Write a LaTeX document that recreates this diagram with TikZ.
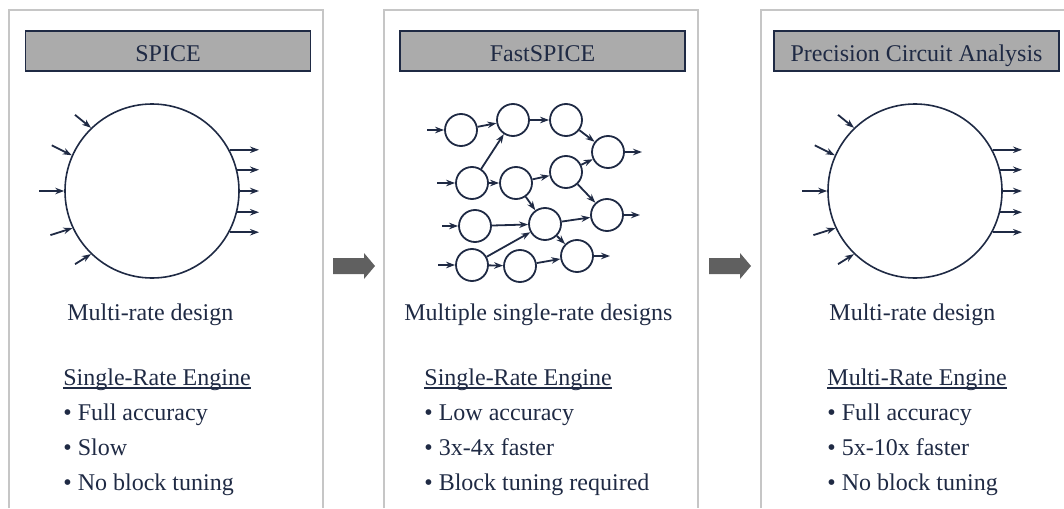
\documentclass[tikz,border=0pt]{standalone}
\usepackage{xcolor}
\usepackage{fontspec}
\setmainfont{Liberation Serif}
\usepackage{tikz}
\usetikzlibrary{arrows.meta, positioning}

\definecolor{navy}{HTML}{1F2A44}
\definecolor{panelgray}{HTML}{C6C6C6}
\definecolor{titlegray}{HTML}{ABABAB}
\definecolor{arrowgray}{HTML}{606060}

\tikzset{
	panel/.style={draw=panelgray, line width=1.5pt},
	titlebox/.style={draw=navy, fill=titlegray, line width=1.6pt, minimum width=285pt, minimum height=40pt,
		text height=22pt, text depth=0pt, inner sep=0pt, text=navy, font=\fontsize{24}{28}\selectfont},
	txt/.style={anchor=base west, inner sep=0pt, text=navy, font=\fontsize{24}{28}\selectfont},
	blob/.style={circle, draw=navy, line width=1.6pt, minimum size=174pt, inner sep=0pt},
	cell/.style={circle, draw=navy, line width=1.8pt, minimum size=32pt, inner sep=0pt},
	wire/.style={->, draw=navy, line width=1.8pt},
	blockarrow/.style={fill=arrowgray}
}

\begin{document}
\begin{tikzpicture}[x=1pt, y=-1pt,
			>={Stealth[length=9pt, width=6.5pt]},
			thick]
			\useasboundingbox (0,0) rectangle (1064,508);
			
			% panels
			\draw[panel] (9,508) |- (323,10) -- (323,508);
			\draw[panel] (384,508) |- (698,10) -- (698,508);
			\draw[panel] (761,508) |- (1064,10);
			
			\node[titlebox] (t1) at (168,51) {SPICE};
			\node[titlebox] (t2) at (542.5,51) {FastSPICE};
			\node[titlebox] (t3) at (916.5,51) {Precision Circuit Analysis};
			
			% SPICE
			\node[blob] (spice) at (152,191) {};
			\coordinate (sout) at (259,0);
			\draw[wire, <-] (spice.134) -- ++(-16,-13);
			\draw[wire, <-] (spice.156) -- ++(-20,-10);
			\draw[wire, <-] (spice.180) -- ++(-25,0);
			\draw[wire, <-] (spice.205) -- ++(-22,7);
			\draw[wire, <-] (spice.226) -- ++(-16,10);
			\draw[wire] (spice.28) -- (spice.28 -| sout);
			\draw[wire] (spice.14) -- (spice.14 -| sout);
			\draw[wire] (spice.0) -- (spice.0 -| sout);
			\draw[wire] (spice.-14) -- (spice.-14 -| sout);
			\draw[wire] (spice.-28) -- (spice.-28 -| sout);
			
			\node[txt] (s1) at (67,320) {Multi-rate design};
			\node[txt] (s2) at (63,385) {Single-Rate Engine};
			\draw[navy, line width=2pt] ([yshift=-3pt]s2.base west) -- ([yshift=-3pt]s2.base east);
			\node[txt] (s3) at (63,420) {\textbullet\ Full accuracy};
			\node[txt] (s4) at (63,455) {\textbullet\ Slow};
			\node[txt] (s5) at (63,490) {\textbullet\ No block tuning};
			
			% FastSPICE
			\node[cell] (fa) at (461,130) {};
			\node[cell] (fb) at (513,120) {};
			\node[cell] (fc) at (566,120) {};
			\node[cell] (fd) at (608,152) {};
			\node[cell] (fe) at (472,183) {};
			\node[cell] (ff) at (516,183) {};
			\node[cell] (fg) at (566,172) {};
			\node[cell] (fh) at (607,215) {};
			\node[cell] (fi) at (475,226) {};
			\node[cell] (fj) at (545,224) {};
			\node[cell] (fk) at (472,265) {};
			\node[cell] (fl) at (520,266) {};
			\node[cell] (fm) at (577,256) {};
			
			\draw[wire, <-] (fa) -- ++(-34,0);
			\draw[wire, <-] (fe) -- ++(-35,0);
			\draw[wire, <-] (fi) -- ++(-33,0);
			\draw[wire, <-] (fk) -- ++(-34,0);
			\draw[wire] (fa) -- (fb);
			\draw[wire] (fb) -- (fc);
			\draw[wire] (fc) -- (fd);
			\draw[wire] (fe) -- (fb);
			\draw[wire] (fe) -- (ff);
			\draw[wire] (ff) -- (fg);
			\draw[wire] (ff) -- (fj);
			\draw[wire] (fg) -- (fd);
			\draw[wire] (fg) -- (fh);
			\draw[wire] (fi) -- (fj);
			\draw[wire] (fj) -- (fh);
			\draw[wire] (fj) -- (fm);
			\draw[wire] (fk) -- (fj);
			\draw[wire] (fk) -- (fl);
			\draw[wire] (fl) -- (fm);
			\draw[wire] (fd) -- ++(34,0);
			\draw[wire] (fh) -- ++(33,0);
			\draw[wire] (fm) -- ++(33,0);
			
			\node[txt] (f1) at (404,320) {Multiple single-rate designs};
			\node[txt] (f2) at (424,385) {Single-Rate Engine};
			\draw[navy, line width=2pt] ([yshift=-3pt]f2.base west) -- ([yshift=-3pt]f2.base east);
			\node[txt] (f3) at (424,420) {\textbullet\ Low accuracy};
			\node[txt] (f4) at (424,455) {\textbullet\ 3x-4x faster};
			\node[txt] (f5) at (424,490) {\textbullet\ Block tuning required};
			
			% Precision Circuit Analysis
			\node[blob] (pca) at (915,191) {};
			\coordinate (pout) at (1022,0);
			\draw[wire, <-] (pca.134) -- ++(-16,-13);
			\draw[wire, <-] (pca.156) -- ++(-20,-10);
			\draw[wire, <-] (pca.180) -- ++(-25,0);
			\draw[wire, <-] (pca.205) -- ++(-22,7);
			\draw[wire, <-] (pca.226) -- ++(-16,10);
			\draw[wire] (pca.28) -- (pca.28 -| pout);
			\draw[wire] (pca.14) -- (pca.14 -| pout);
			\draw[wire] (pca.0) -- (pca.0 -| pout);
			\draw[wire] (pca.-14) -- (pca.-14 -| pout);
			\draw[wire] (pca.-28) -- (pca.-28 -| pout);
			
			\node[txt] (p1) at (829,320) {Multi-rate design};
			\node[txt] (p2) at (827,385) {Multi-Rate Engine};
			\draw[navy, line width=2pt] ([yshift=-3pt]p2.base west) -- ([yshift=-3pt]p2.base east);
			\node[txt] (p3) at (827,420) {\textbullet\ Full accuracy};
			\node[txt] (p4) at (827,455) {\textbullet\ 5x-10x faster};
			\node[txt] (p5) at (827,490) {\textbullet\ No block tuning};
			
			% arrows between panels
			\fill[blockarrow] (333,258) -- (364,258) -- (364,253) -- (375,266) -- (364,279) -- (364,274) -- (333,274) -- cycle;
			\fill[blockarrow] (709,258) -- (740,258) -- (740,253) -- (751,266) -- (740,279) -- (740,274) -- (709,274) -- cycle;
		\end{tikzpicture}
\end{document}
